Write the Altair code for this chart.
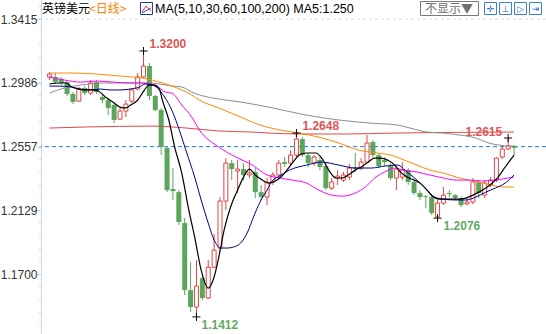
import altair as alt
import pandas as pd

# ---------------- data ----------------
opens = [1.3025,1.3025,1.3012,1.2991,1.2911,1.2863,1.2951,1.2917,1.2991,1.2891,
         1.2870,1.2837,1.2742,1.2796,1.2863,1.2944,1.3025,1.3099,1.2897,1.2803,
         1.2548,1.2272,1.2251,1.2043,1.1592,1.1478,1.1673,1.1539,1.1746,1.1875,
         1.2191,1.2446,1.2393,1.2406,1.2366,1.2386,1.2251,1.2218,1.2319,1.2366,
         1.2453,1.2446,1.2500,1.2608,1.2500,1.2446,1.2467,1.2426,1.2278,1.2346,
         1.2332,1.2352,1.2420,1.2413,1.2453,1.2588,1.2500,1.2467,1.2426,1.2346,
         1.2352,1.2399,1.2319,1.2245,1.2224,1.2218,1.2084,1.2177,1.2245,1.2231,
         1.2211,1.2171,1.2184,1.2319,1.2231,1.2299,1.2332,1.2487,1.2541,1.2561]
closes = [1.3045,1.2991,1.2985,1.2911,1.2857,1.2944,1.2917,1.2985,1.2924,1.2870,
          1.2817,1.2736,1.2796,1.2843,1.2938,1.3025,1.3099,1.2897,1.2803,1.2554,
          1.2265,1.2258,1.2050,1.1592,1.1478,1.1619,1.1539,1.1746,1.1861,1.2191,
          1.2446,1.2406,1.2406,1.2366,1.2379,1.2251,1.2218,1.2319,1.2366,1.2446,
          1.2440,1.2500,1.2608,1.2500,1.2446,1.2487,1.2420,1.2278,1.2319,1.2359,
          1.2366,1.2413,1.2406,1.2453,1.2581,1.2500,1.2426,1.2453,1.2346,1.2406,
          1.2399,1.2319,1.2245,1.2218,1.2218,1.2110,1.2177,1.2231,1.2238,1.2211,
          1.2164,1.2184,1.2319,1.2245,1.2312,1.2332,1.2480,1.2541,1.2561,1.2548]
highs = [1.3059,1.3052,1.3025,1.3005,1.2924,1.2958,1.2964,1.3005,1.3005,1.2904,
         1.2884,1.2850,1.2817,1.2870,1.2951,1.3052,1.3200,1.3119,1.2904,1.2817,
         1.2554,1.2413,1.2265,1.2077,1.1780,1.1794,1.1693,1.1794,1.1969,1.2218,
         1.2480,1.2467,1.2467,1.2446,1.2467,1.2413,1.2299,1.2346,1.2386,1.2467,
         1.2487,1.2534,1.2648,1.2621,1.2514,1.2500,1.2487,1.2446,1.2346,1.2399,
         1.2386,1.2440,1.2514,1.2480,1.2635,1.2601,1.2514,1.2487,1.2446,1.2426,
         1.2453,1.2413,1.2332,1.2265,1.2231,1.2231,1.2198,1.2285,1.2265,1.2238,
         1.2224,1.2211,1.2346,1.2332,1.2332,1.2352,1.2487,1.2568,1.2615,1.2568]
lows = [1.3005,1.2978,1.2971,1.2897,1.2843,1.2857,1.2904,1.2904,1.2911,1.2850,
        1.2769,1.2715,1.2736,1.2756,1.2850,1.2938,1.3018,1.2870,1.2796,1.2500,
        1.2251,1.2198,1.2030,1.1559,1.1445,1.1412,1.1525,1.1532,1.1740,1.1861,
        1.2131,1.2332,1.2245,1.2332,1.2346,1.2211,1.2198,1.2164,1.2299,1.2352,
        1.2420,1.2426,1.2480,1.2487,1.2420,1.2426,1.2399,1.2265,1.2265,1.2299,
        1.2319,1.2332,1.2386,1.2399,1.2440,1.2480,1.2413,1.2426,1.2332,1.2265,
        1.2332,1.2299,1.2231,1.2198,1.2144,1.2097,1.2076,1.2164,1.2218,1.2198,
        1.2151,1.2164,1.2171,1.2211,1.2211,1.2285,1.2319,1.2473,1.2534,1.2500]

# moving-average curves: (candle index, value)
ma5 = [(0,1.2978),(1.7,1.2985),(2.8,1.2985),(3.8,1.2958),(5,1.2944),(6.2,1.2938),(7.2,1.2938),
       (8.3,1.2931),(9.5,1.2891),(10.8,1.2857),(12,1.2823),(13,1.2817),(13.8,1.2837),(15,1.2870),
       (15.8,1.2917),(17,1.2971),(17.8,1.2971),(18.7,1.2944),(19.2,1.2870),(20.3,1.2736),
       (21.3,1.2554),(22.5,1.2379),(23.7,1.2130),(24.7,1.1949),(25.8,1.1727),(27,1.1606),
       (28,1.1680),(28.8,1.1814),(29.7,1.1996),(30.8,1.2151),(32,1.2265),(33,1.2352),(34,1.2406),
       (35,1.2366),(36.2,1.2332),(37.2,1.2312),(38.7,1.2332),(39.7,1.2366),(41.3,1.2446),
       (42.5,1.2500),(43.7,1.2514),(45.3,1.2514),(46.3,1.2480),(47.5,1.2399),(48.7,1.2346),
       (49.7,1.2346),(50.8,1.2366),(52,1.2399),(53,1.2420),(54.2,1.2453),(55.3,1.2480),
       (56.3,1.2480),(57.5,1.2467),(58.7,1.2433),(59.7,1.2386),(60.8,1.2352),(62,1.2332),
       (63,1.2312),(64.2,1.2265),(65.3,1.2218),(66.3,1.2204),(68,1.2204),(69.7,1.2204),
       (70.8,1.2211),(72,1.2231),(73,1.2251),(74.2,1.2278),(75.3,1.2312),(76.3,1.2352),
       (77.5,1.2420),(79,1.2500)]
ma10 = [(0,1.2964),(1.7,1.2964),(3.7,1.2958),(5.3,1.2944),(7,1.2938),(8.7,1.2944),(10.3,1.2938),
        (12,1.2938),(13.7,1.2944),(15.3,1.2958),(16.3,1.2978),(17.5,1.2971),(18.7,1.2938),
        (19.7,1.2884),(20.8,1.2803),(22.2,1.2655),(23.3,1.2521),(24.7,1.2352),(25.8,1.2198),
        (27,1.2043),(28,1.1929),(29.2,1.1875),(30.3,1.1875),(31.3,1.1882),(32.5,1.1908),
        (33.7,1.1983),(34.7,1.2084),(35.8,1.2184),(37,1.2265),(38,1.2332),(38.8,1.2352),
        (40.8,1.2399),(43.7,1.2433),(46.3,1.2453),(49.2,1.2433),(52,1.2413),(54.7,1.2413),
        (57,1.2426),(59.2,1.2433),(60.8,1.2386),(62.5,1.2332),(64.2,1.2265),(65.5,1.2218),
        (67,1.2204),(69.2,1.2198),(70.8,1.2198),(72.5,1.2218),(74.2,1.2251),(75.8,1.2278),
        (77.5,1.2312),(79,1.2366)]
ma30 = [(0,1.3025),(2.5,1.3005),(5.3,1.2991),(8,1.2998),(10.8,1.2991),(13.7,1.2985),(15.8,1.2985),
        (18,1.2971),(19.7,1.2924),(20.8,1.2917),(22.5,1.2837),(24.2,1.2756),(25.5,1.2669),
        (28.8,1.2554),(31.7,1.2487),(34.5,1.2433),(37,1.2366),(39.2,1.2346),(41.3,1.2332),
        (43.7,1.2312),(45.8,1.2265),(48,1.2231),(49.7,1.2224),(52,1.2245),(53.7,1.2285),
        (55.3,1.2346),(57,1.2386),(58.7,1.2413),(60.3,1.2399),(62.5,1.2386),(64.7,1.2366),
        (67,1.2346),(69.2,1.2332),(71.3,1.2332),(73.7,1.2326),(75.8,1.2332),(78,1.2346),(79,1.2352)]
ma60 = [(0,1.3052),(3.7,1.3052),(8,1.3045),(12.5,1.3030),(15.8,1.3018),(19.2,1.2985),
        (22.5,1.2938),(24.2,1.2904),(25.5,1.2870),(28.8,1.2817),(32.5,1.2756),(35.8,1.2702),
        (39.2,1.2669),(42.5,1.2648),(45.8,1.2621),(49.2,1.2581),(52.5,1.2534),(55.8,1.2514),
        (58,1.2500),(60.3,1.2467),(62.5,1.2433),(64.7,1.2399),(67,1.2379),(69.2,1.2352),
        (71.3,1.2332),(73.7,1.2312),(75.8,1.2292),(78,1.2285),(79,1.2285)]
ma100 = [(0,1.2917),(2.5,1.2951),(5.3,1.2971),(9.2,1.2985),(13.7,1.2985),(17,1.2985),
         (20.8,1.2965),(22.5,1.2958),(24.2,1.2924),(30,1.2870),(32.5,1.2857),(38,1.2817),
         (43.7,1.2769),(49.2,1.2736),(54.7,1.2715),(59.2,1.2702),(61.3,1.2682),(64.2,1.2655),
         (67,1.2648),(69.7,1.2635),(72.5,1.2615),(74.7,1.2581),(76.3,1.2568),(78,1.2561),(79,1.2561)]
ma200 = [(0,1.2682),(6.3,1.2689),(17.5,1.2695),(23.3,1.2682),(28.8,1.2662),(34.5,1.2655),
         (37.5,1.2648),(42.5,1.2642),(50.8,1.2642),(58.3,1.2648),(79,1.2655)]

axis_ticks = [1.3415, 1.2986, 1.2557, 1.2129, 1.1700]
last_price = 1.2557

ann_idx = [16, 25, 42, 78, 66]
ann_price = [1.3200, 1.1412, 1.2648, 1.2615, 1.2076]
ann_text = ["1.3200", "1.1412", "1.2648", "1.2615", "1.2076"]
ann_kind = ["high", "low", "high", "high", "low"]

# ---------------- styling ----------------
RED = "#e04646"
GREEN = "#5ca55c"
LBL_RED = "#e05555"
LBL_GREEN = "#62aa62"
Y_DOMAIN = [1.1297, 1.3543]
X_DOMAIN = [-0.5833, 83.5833]

n = len(opens)
candles = pd.DataFrame({"i": list(range(n)), "open": opens, "high": highs,
                        "low": lows, "close": closes})
candles["dir"] = ["up" if c >= o else "down" for o, c in zip(opens, closes)]

xs = alt.Scale(domain=X_DOMAIN, nice=False, zero=False)
ys = alt.Scale(domain=Y_DOMAIN, nice=False, zero=False)
X = alt.X("i:Q", scale=xs, axis=None)

yaxis = alt.Axis(values=axis_ticks, format=".4f", labelFont="Liberation Sans",
                 labelFontSize=12, labelColor="#333333", tickColor="#b9cfe4",
                 tickSize=4, domainColor="#c9d9ea", labelPadding=0, grid=False,
                 title=None, labelOverlap=False)


def Y(field):
    return alt.Y(field, scale=ys, axis=yaxis)


one = pd.DataFrame({"k": [0]})
layers = []

# top dashed grid + minor ticks + current price line
layers.append(alt.Chart(pd.DataFrame({"v": [axis_ticks[0]]})).mark_rule(
    color="#d9d9d9", strokeDash=[3, 3], strokeWidth=1).encode(y=Y("v:Q")))

minor_step = (axis_ticks[0] - axis_ticks[1]) / 5
minor = []
v = axis_ticks[0] + 2 * minor_step
while v > Y_DOMAIN[0]:
    minor.append(round(v, 5))
    v -= minor_step
layers.append(alt.Chart(pd.DataFrame({"v": minor})).mark_rule(
    color="#c9d9ea", strokeWidth=1).encode(y=Y("v:Q"), x=alt.value(-2), x2=alt.value(0)))

layers.append(alt.Chart(pd.DataFrame({"v": [last_price]})).mark_rule(
    color="#1f7ae0", strokeDash=[4, 3], strokeWidth=1).encode(y=Y("v:Q")))

# candles
cbase = alt.Chart(candles)
layers.append(cbase.mark_rule(strokeWidth=1).encode(
    x=X, y=Y("low:Q"), y2="high:Q",
    color=alt.Color("dir:N", scale=alt.Scale(domain=["up", "down"], range=[RED, GREEN]),
                    legend=None)))
layers.append(cbase.transform_filter(alt.datum.dir == "down").mark_bar(
    width=5, color=GREEN).encode(x=X, y=Y("open:Q"), y2="close:Q"))
layers.append(cbase.transform_filter(alt.datum.dir == "up").mark_bar(
    width=4, fill="white", stroke=RED, strokeWidth=1).encode(x=X, y=Y("open:Q"), y2="close:Q"))

# moving averages
for pts, col, w in [(ma200, "#e04848", 1), (ma100, "#8c8c8c", 1), (ma60, "#ff8a00", 1),
                    (ma30, "#ff00ff", 1), (ma10, "#000090", 1), (ma5, "#000000", 1.2)]:
    df = pd.DataFrame(pts, columns=["i", "v"])
    layers.append(alt.Chart(df).mark_line(color=col, strokeWidth=w,
                                          interpolate="monotone").encode(x=X, y=Y("v:Q")))

# extreme markers and labels
ann = pd.DataFrame({"i": ann_idx, "p": ann_price, "label": ann_text, "kind": ann_kind})
layers.append(alt.Chart(ann).mark_point(
    shape="M-1,0H1M0,-1V1", size=64, filled=False, color="black",
    strokeWidth=1, opacity=1).encode(x=X, y=Y("p:Q")))
offsets = [(6, -7, "left"), (5, 8, "left"), (6, -7, "left"), (-6, -6, "right"), (6, 8, "left")]
for k in range(len(ann)):
    dx, dy, al = offsets[k]
    col = LBL_RED if ann_kind[k] == "high" else LBL_GREEN
    layers.append(alt.Chart(ann.iloc[[k]]).mark_text(
        align=al, baseline="middle", dx=dx, dy=dy, font="Liberation Sans",
        fontSize=12, fontWeight="bold", color=col).encode(
        x=X, y=Y("p:Q"), text="label:N"))

# header (positions relative to plot left edge at x=41)
HY = 9


def htext(txt, x, col="#000000", font="Noto Sans CJK SC", size=12):
    return alt.Chart(one).mark_text(text=txt, align="left", baseline="middle",
                                    font=font, fontSize=size, color=col).encode(
        x=alt.value(x), y=alt.value(HY))


layers.append(htext("英镑美元", 1))
layers.append(htext("<日线>", 48, col="#ff7f00"))
layers.append(alt.Chart(one).mark_rect(fill="white", stroke="#1f3f9f", strokeWidth=1).encode(
    x=alt.value(99.5), x2=alt.value(111.5), y=alt.value(2.5), y2=alt.value(14.5)))
layers.append(alt.Chart(one).mark_rule(color="#e03030", strokeWidth=1).encode(
    x=alt.value(101), y=alt.value(12), x2=alt.value(105), y2=alt.value(6)))
layers.append(alt.Chart(one).mark_rule(color="#e03030", strokeWidth=1).encode(
    x=alt.value(105), y=alt.value(6), x2=alt.value(110), y2=alt.value(11)))
layers.append(alt.Chart(one).mark_rule(color="#3050d0", strokeWidth=1).encode(
    x=alt.value(101), y=alt.value(13), x2=alt.value(110), y2=alt.value(8)))
layers.append(htext("MA(5,10,30,60,100,200) MA5:1.250", 114, font="Liberation Sans", size=12.5))

layers.append(alt.Chart(one).mark_rect(fill="white", stroke="#7a7a7a", strokeWidth=1).encode(
    x=alt.value(379.5), x2=alt.value(437.5), y=alt.value(1.5), y2=alt.value(15.5)))
layers.append(htext("不显示▼", 384, col="#707070"))
for bx, glyph in zip([443, 458, 473, 488], ["✛", "⊥", "▷", "⇥"]):
    layers.append(alt.Chart(one).mark_rect(fill="white", stroke="#3a7ee0", strokeWidth=1).encode(
        x=alt.value(bx + 0.5), x2=alt.value(bx + 12.5), y=alt.value(2.5), y2=alt.value(14.5)))
    layers.append(alt.Chart(one).mark_text(text=glyph, align="center", baseline="middle",
                                           font="DejaVu Sans", fontSize=9, color="#2a6ed8").encode(
        x=alt.value(bx + 6.5), y=alt.value(8.5)))

chart = alt.layer(*layers).properties(
    width=505, height=334,
    padding={"left": 41, "top": 0, "right": 0, "bottom": 0},
    autosize=alt.AutoSizeParams(type="none"),
    background="white",
).configure_view(stroke=None)

chart.save("out.html", embed_options={"renderer": "svg", "actions": False})
